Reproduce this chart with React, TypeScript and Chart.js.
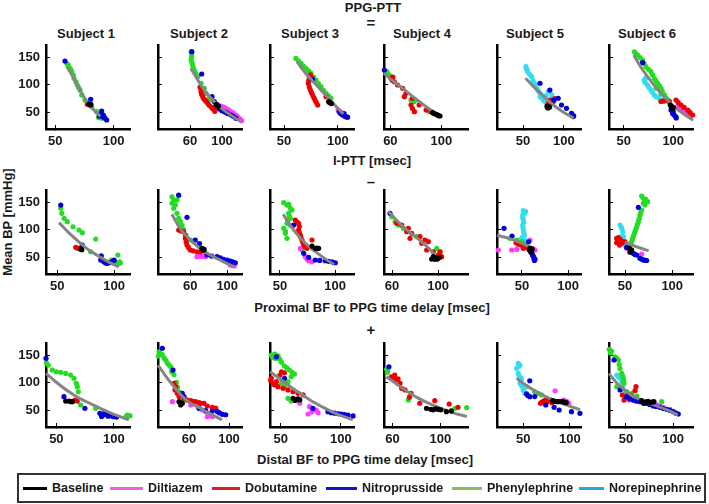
import React, { useEffect, useRef } from "react";
import { Chart, registerables } from "chart.js";
Chart.register(...registerables);

type Pt = [number, number];

// ---------- labels ----------
const drugNames = ["Baseline", "Diltiazem", "Dobutamine", "Nitroprusside", "Phenylephrine", "Norepinephrine"];
const dotColors = ["#000000", "#ff3cff", "#ee0000", "#0000d8", "#22dd22", "#33dcee"];
const legendColors = ["#000000", "#e466dc", "#e01e1e", "#1414c8", "#7cc458", "#22a8e8"];
const subjectTitles = ["Subject 1", "Subject 2", "Subject 3", "Subject 4", "Subject 5", "Subject 6"];
const rowXLabels = ["I-PTT [msec]", "Proximal BF to PPG time delay [msec]", "Distal BF to PPG time delay [msec]"];
const rowSigns = ["=", "\u2013", "+"];
const yTicks = [50, 100, 150];
const yRange = [20, 172];
const xTickLabels = [[50, 100], [60, 100], [50, 100], [60, 100], [50, 100], [50, 100]];
const xRangesRow1 = [[42, 114], [20, 125], [37, 115], [55, 121], [18, 121], [35, 120]];
const xRangesRow2 = [[40, 114], [25, 116], [41, 117], [53, 126], [23, 114], [33, 122]];
const xRangesRow3 = [[41, 114], [29, 113], [41, 111], [53, 123], [22, 112], [32, 121]];

// ---------- Row 1 : PPG-PTT vs I-PTT ----------
const r1s1Base: Pt[] = [[79.7, 63.4], [80.5, 64.5], [79, 65]];
const r1s1Dil: Pt[] = [];
const r1s1Dob: Pt[] = [[77.4, 64.6], [78, 66]];
const r1s1Nit: Pt[] = [[58.3, 143], [80.3, 73.8], [89.7, 52.6], [87.7, 43.5], [91.1, 45.3], [92.6, 39.3], [94, 36.3], [90.6, 42], [89, 47], [92, 41]];
const r1s1Phe: Pt[] = [[61.1, 135.7], [62.6, 129.8], [64, 123.8], [65.4, 117.6], [66, 111.7], [67.7, 105.5], [68.8, 99.6], [71.1, 90.5], [72.6, 81.5], [75.4, 72.4], [81.2, 60.3], [85.4, 51.3], [88.3, 45.3], [89.7, 39.5], [87, 41], [60, 138], [63, 127], [70, 95]];
const r1s1Nor: Pt[] = [];
const r1s1Fit: Pt[] = [[59.7, 133], [65, 115], [71, 91], [76, 73], [80, 62], [84, 52], [88.5, 43]];

const r1s2Base: Pt[] = [[92.5, 63.4], [94.6, 61], [93.5, 64.5], [95.5, 62]];
const r1s2Dil: Pt[] = [[98.8, 61.6], [102, 59.5], [105, 57.4], [108, 54.5], [111.3, 51.4], [114, 49], [117.5, 45.3], [119.5, 42], [121.6, 39.3], [123, 37], [124.6, 35], [100, 57], [110, 48]];
const r1s2Dob: Pt[] = [[72.5, 95.4], [73.8, 87.6], [75.9, 78.5], [78.8, 72.4], [82.1, 66.4], [86.3, 60.3], [90.4, 54.3], [73.8, 93], [74.5, 83], [77, 75], [80, 70], [84, 63], [88, 57], [91, 52]];
const r1s2Nit: Pt[] = [[62.3, 160], [74.6, 119.5], [87.5, 78.5], [90.4, 69.8], [102.9, 51.4], [107, 48], [111.3, 45.3], [114, 43], [117.5, 39.3], [105, 50], [100, 53], [97, 56]];
const r1s2Phe: Pt[] = [[61.3, 159.8], [62.1, 153.8], [61.3, 144.8], [63.4, 135.7], [65.4, 126.7], [69.6, 114.6], [73.8, 102.5], [77.9, 93.6], [80, 84.6], [84.1, 75.6], [86, 73], [62, 150], [62.5, 140], [64, 131], [67, 121]];
const r1s2Nor: Pt[] = [];
const r1s2Fit: Pt[] = [[61, 130], [70, 108], [80, 86], [90, 70], [100, 57], [110, 46], [124, 33]];

const r1s3Base: Pt[] = [[91.5, 69.8], [93.1, 67], [92, 68.5], [94, 66]];
const r1s3Dil: Pt[] = [[100.3, 54], [103, 50], [106, 43], [108, 41], [104, 47]];
const r1s3Dob: Pt[] = [[73.5, 114.6], [72.6, 102.5], [74.5, 90.5], [76.6, 81.5], [78.8, 72.4], [81.3, 63.4], [89, 78.5], [76, 112], [73, 108], [73.5, 96], [75.5, 86], [77.7, 77], [80, 68], [74.5, 118]];
const r1s3Nit: Pt[] = [[76.6, 109], [101.3, 51.4], [104.4, 45.3], [109.1, 41.4], [105.8, 48], [107, 43], [102.5, 48]];
const r1s3Phe: Pt[] = [[61.1, 147.7], [63.5, 143], [65.8, 139], [68, 134], [70.4, 129.8], [72.8, 125], [75.1, 120.9], [77.5, 114], [79.7, 108.6], [82, 102], [84.4, 96.7], [86.7, 90], [89, 84.6], [91.3, 80], [93.6, 75.6]];
const r1s3Nor: Pt[] = [];
const r1s3Fit: Pt[] = [[62, 142], [70, 121], [78, 104], [86, 87], [95, 68], [105, 47]];

const r1s4Base: Pt[] = [[93.3, 49.6], [95.9, 46.7], [98, 44.2], [94.5, 48], [97, 45.5], [99, 43.5]];
const r1s4Dil: Pt[] = [];
const r1s4Dob: Pt[] = [[60.5, 111.7], [63.1, 105.5], [65.7, 99.6], [69.7, 93.6], [72.3, 84.6], [71, 78.5], [77.3, 75.6], [76.2, 63.4], [77.3, 57.4], [78.9, 51.4], [82.6, 63.4], [88.1, 54.3], [92, 51.4], [61.5, 108], [62, 114]];
const r1s4Nit: Pt[] = [[55.3, 126.7]];
const r1s4Phe: Pt[] = [[57.4, 123.8], [59.2, 117.6], [76.2, 72.4], [78.8, 69.6], [90.6, 51.4], [56.5, 121]];
const r1s4Nor: Pt[] = [];
const r1s4Fit: Pt[] = [[55, 121], [62, 107], [70, 93], [78, 78], [86, 64], [92, 54], [98, 45]];

const r1s5Base: Pt[] = [[79.2, 61.6], [82.5, 59.6], [80.5, 58], [81, 60.5], [79.8, 59]];
const r1s5Dil: Pt[] = [];
const r1s5Dob: Pt[] = [[82.8, 72.4], [87, 69.6], [89, 75], [81, 66], [85, 67]];
const r1s5Nit: Pt[] = [[70.7, 102.8], [82.8, 90.5], [93, 75.6], [97.1, 63.4], [103.2, 57.4], [109.4, 48.4], [111.5, 42.4], [87.4, 72], [110, 45], [112, 44]];
const r1s5Phe: Pt[] = [[85.1, 73], [88, 71]];
const r1s5Nor: Pt[] = [[53.5, 132.8], [55.6, 123.8], [60.5, 114.8], [63.8, 102.8], [66.6, 93.6], [70.7, 84.6], [73.7, 75.6], [76.9, 69.6], [81, 87.6], [85.1, 81.6], [54.5, 128], [58, 119], [62, 108], [65, 98], [68.5, 89], [72, 80], [75, 72], [78, 80], [71, 78]];
const r1s5Fit: Pt[] = [[53, 112], [62, 98], [72, 84], [82, 70], [92, 58], [102, 48], [112, 40]];

const r1s6Base: Pt[] = [[97, 63.4], [99.4, 57], [98, 60.5], [100, 59]];
const r1s6Dil: Pt[] = [[104.5, 60.3], [109.6, 54.3], [114.7, 48.4], [118, 45], [106, 58], [112, 51], [116, 46.5]];
const r1s6Dob: Pt[] = [[87.6, 69.6], [92.7, 72], [102.8, 72.4], [107.9, 63.4], [114.7, 54.3], [119.7, 45.3], [96, 70], [105, 68], [111, 59], [117, 50], [90, 71]];
const r1s6Nit: Pt[] = [[69, 140], [97.7, 54.3], [101, 45.3], [99.4, 48], [102.7, 42], [100, 51], [103, 40]];
const r1s6Phe: Pt[] = [[60.6, 159.8], [64, 153.8], [69, 144.8], [72.4, 132.8], [77.5, 123.8], [80.9, 111.7], [84.3, 102.8], [87.6, 93.7], [91, 81.6], [94.3, 72.6], [82.6, 93.7], [87.6, 84], [62, 157], [66.5, 149], [70.5, 139], [75, 128], [79, 118], [82.5, 107], [86, 98], [89, 88], [92.5, 77], [96, 68]];
const r1s6Nor: Pt[] = [[70.7, 108.6], [74, 99.6], [77.4, 90.5], [80.8, 81.5], [85.8, 75.6], [90.9, 69.6], [72, 112], [75.5, 95], [79, 86], [83, 78], [88, 72], [71.5, 104]];
const r1s6Fit: Pt[] = [[60, 154], [68, 130], [76, 110], [84, 92], [92, 76], [100, 62], [110, 48], [120, 36]];

// ---------- Row 2 : Proximal BF to PPG time delay ----------
const r2s1Base: Pt[] = [[70.6, 65], [71.5, 64]];
const r2s1Dil: Pt[] = [];
const r2s1Dob: Pt[] = [[66.2, 68.3], [69.1, 66.4], [67.5, 67]];
const r2s1Nit: Pt[] = [[53, 144.8], [71.9, 72.4], [88.7, 53], [88.2, 45.3], [91.1, 42.2], [94, 39.3], [98.4, 42.2], [100, 45], [90, 44], [96, 40.5], [92.5, 40]];
const r2s1Phe: Pt[] = [[53, 138.8], [53.9, 129.8], [56, 120.7], [58.8, 114.6], [63.8, 105.5], [69.1, 99.6], [72, 94.7], [83.8, 83.3], [79.3, 60.3], [97.5, 45.3], [103.3, 54.4], [104.9, 42.2], [102, 40], [103.5, 38], [105.5, 40]];
const r2s1Nor: Pt[] = [];
const r2s1Fit: Pt[] = [[51.5, 113], [60, 95], [68, 80], [76, 66], [85, 54], [95, 42], [104, 33]];

const r2s2Base: Pt[] = [[72.6, 66.4], [74.4, 63], [73.5, 65], [75, 64.5]];
const r2s2Dil: Pt[] = [[67.2, 51.3], [76.2, 51.3], [103.3, 36.3], [107.6, 34.6], [105.5, 35.5], [70, 52], [73, 52]];
const r2s2Dob: Pt[] = [[47.4, 99.6], [52.8, 96.5], [54.6, 84.6], [56.4, 72.4], [60, 63.4], [67.2, 60.3], [70.8, 60.3], [74.4, 61.6], [50, 98], [55, 90], [55.5, 78], [58, 68], [63, 62]];
const r2s2Nit: Pt[] = [[47.4, 162.8], [56.4, 122.5], [65.4, 81.5], [78.1, 54.4], [88.9, 51.3], [96.1, 46.6], [103.3, 43.5], [108.8, 40.4], [83, 52.5], [92.5, 49], [100, 45], [106, 42], [70, 75], [73, 66]];
const r2s2Phe: Pt[] = [[40.2, 159.8], [42, 153.8], [40.2, 148], [42, 138.8], [45.6, 129.8], [47.4, 120.8], [49.2, 114.7], [45.6, 154], [47.4, 162], [43.8, 145], [54.6, 90.5], [60, 81.5], [63.6, 78.5], [51, 108], [52.5, 101]];
const r2s2Nor: Pt[] = [];
const r2s2Fit: Pt[] = [[40, 128], [50, 100], [60, 82], [70, 67], [82, 54], [95, 43], [107, 33]];

const r2s3Base: Pt[] = [[79, 70.6], [82, 66.4], [85, 66.4], [83.5, 67]];
const r2s3Dil: Pt[] = [[68.4, 66], [72.9, 51.3], [76, 44], [79, 42], [74.5, 47]];
const r2s3Dob: Pt[] = [[63.9, 117.6], [66.9, 111.6], [66.9, 99.6], [68.4, 90.5], [70, 81.5], [71.5, 72.4], [74.5, 66.4], [79, 81.5], [83.5, 66], [65.5, 114], [67.5, 106], [67.5, 95], [69, 86], [70.7, 77], [73, 69]];
const r2s3Nit: Pt[] = [[62.4, 108.6], [71.5, 57.4], [82, 45.3], [91, 44], [97.1, 42.2], [100.1, 40.4], [86, 44.5], [94, 43], [76, 50]];
const r2s3Phe: Pt[] = [[53.4, 149], [56.4, 144.8], [59.4, 139], [57.9, 129.8], [59.4, 120.8], [56.4, 111.7], [53.4, 102.6], [54.9, 93.6], [56.4, 84.6], [59.4, 108], [60.9, 136], [70, 63.4], [58, 146], [55, 97], [58.5, 125], [57, 116]];
const r2s3Nor: Pt[] = [];
const r2s3Fit: Pt[] = [[53, 128], [60, 106], [68, 86], [76, 70], [85, 56], [92, 46], [99, 37]];

const r2s4Base: Pt[] = [[95.9, 51.3], [98.8, 48.4], [97.3, 46.6], [101.2, 50], [94.4, 47], [97, 49.5], [99.5, 47]];
const r2s4Dil: Pt[] = [];
const r2s4Dob: Pt[] = [[68.4, 108.6], [74.2, 102.6], [72.7, 96.6], [77.1, 93.6], [75.6, 84.6], [84.3, 87.6], [85.8, 75.5], [91.5, 78.5], [90.1, 63.4], [95.9, 60.3], [101.7, 60.3], [100.2, 54.4], [103.1, 51.3], [88.6, 81.5], [64, 112]];
const r2s4Nit: Pt[] = [[58.2, 129.8]];
const r2s4Phe: Pt[] = [[59.7, 123.8], [62.6, 114.6], [65.5, 108.6], [69.8, 102.6], [81.4, 87.6], [98.8, 66.4], [101.7, 60.3]];
const r2s4Nor: Pt[] = [];
const r2s4Fit: Pt[] = [[57, 133], [65, 115], [72, 101], [80, 88], [88, 74], [97, 56]];

const r2s5Base: Pt[] = [[58.8, 66.4], [60.6, 62.2], [58, 63.4], [59.5, 60], [61, 65]];
const r2s5Dil: Pt[] = [[24.4, 63.4], [38.9, 63.4], [44.3, 64.5], [58.8, 81.5], [64.2, 63.4], [62, 66]];
const r2s5Dob: Pt[] = [[43.6, 76.6], [49.1, 72.4], [51.5, 66.4], [55.1, 67.6], [46, 74]];
const r2s5Nit: Pt[] = [[30.6, 102.6], [39.3, 88.7], [57.2, 78.4], [60.8, 57.4], [62.6, 51.3], [64.2, 46.6], [63, 49], [61.5, 54], [63.5, 44.5]];
const r2s5Phe: Pt[] = [[37.1, 84.6], [44.3, 81.5], [49.7, 78.5], [55.1, 72.4], [52, 75]];
const r2s5Nor: Pt[] = [[51.5, 134.5], [54, 133], [50.9, 126.7], [51.5, 117.6], [50.9, 108.6], [51.5, 99.6], [52.8, 90.5], [53.3, 81.5], [48, 81.5], [51.5, 72.4], [53, 130], [51, 122], [52, 113], [51.2, 104], [52, 95], [50, 86], [52.5, 77]];
const r2s5Fit: Pt[] = [[23, 90], [35, 85], [45, 79], [55, 72], [62, 67]];

const r2s6Base: Pt[] = [[54.5, 66.4], [57, 63.4], [55.2, 59.5], [56, 61.5]];
const r2s6Dil: Pt[] = [[51.7, 66.4], [67.6, 56.2]];
const r2s6Dob: Pt[] = [[41.1, 84.6], [42.9, 80.3], [44.7, 82.6], [41.1, 76.6], [46.4, 75.5], [50, 78.4], [44.1, 72.4], [43, 86], [47, 79]];
const r2s6Nit: Pt[] = [[64.1, 140.6], [51.7, 68], [57, 60.3], [62.3, 54.4], [65.8, 48.4], [69.4, 45.3], [72.9, 44.4], [59, 57], [60.5, 55.5], [67.5, 47], [71, 45]];
const r2s6Phe: Pt[] = [[67.6, 161], [69.4, 157], [74, 150.8], [69.4, 148], [67.6, 135.7], [65.8, 126.7], [64.1, 114.6], [62.3, 105.5], [60.5, 96.5], [58.7, 87.5], [57, 78.4], [55.2, 70.6], [53.5, 66], [66.5, 131], [65, 120], [63.2, 110], [61.4, 101], [59.6, 92], [57.8, 83], [71, 145], [72, 155]];
const r2s6Nor: Pt[] = [[44.7, 108.6], [46.5, 103], [47.5, 96.5], [48.2, 87.6], [50, 72.4], [46.5, 88], [49, 80]];
const r2s6Fit: Pt[] = [[50, 78], [58, 72], [66, 67], [75, 62]];

// ---------- Row 3 : Distal BF to PPG time delay ----------
const r3s1Base: Pt[] = [[58.1, 67], [61, 67], [64, 65.8], [62.5, 66]];
const r3s1Dil: Pt[] = [];
const r3s1Dob: Pt[] = [[66.2, 68.8], [68.2, 67]];
const r3s1Nit: Pt[] = [[41, 144.2], [56.6, 74.8], [74.8, 53.8], [87.8, 44.8], [90.7, 41.7], [93.6, 42.7], [96.5, 40.4], [99.4, 38.6], [102.3, 38], [92.2, 46.9], [89.3, 39], [95, 39.5]];
const r3s1Phe: Pt[] = [[41.3, 136.3], [43, 132], [46.5, 123.1], [50, 120], [53.7, 119], [58.1, 117], [62.4, 114], [65.3, 108.1], [67.3, 99], [68.2, 92.9], [69.1, 83.8], [71.1, 59.8], [84.2, 53.8], [111.7, 41.7], [114, 40], [110.5, 39]];
const r3s1Nor: Pt[] = [];
const r3s1Fit: Pt[] = [[41, 117], [50, 101], [60, 85], [70, 72], [80, 62], [90, 52], [100, 43], [113, 33]];

const r3s2Base: Pt[] = [[50, 65.8], [53.3, 62.8], [51.7, 60], [52, 63.5]];
const r3s2Dil: Pt[] = [[43.3, 65.8], [61.7, 60], [70, 54], [76.7, 48], [81.7, 41.7], [83.3, 38.6], [78.3, 38.6], [73, 51], [80, 44]];
const r3s2Dob: Pt[] = [[45, 99], [46.7, 93], [46, 87], [48.3, 81], [50, 75], [55, 72], [58.3, 68.8], [61.7, 67.6], [66.7, 65.8], [71.7, 62.8], [75, 62.8], [78.3, 58], [83.3, 55.6], [86.7, 54], [70, 64], [64, 66.5]];
const r3s2Nit: Pt[] = [[33.3, 162.3], [44, 123], [53.3, 80.8], [55, 75], [70, 53.8], [76.7, 49.8], [83.3, 48.9], [88.3, 47.9], [93.3, 43], [96.7, 42.2], [90.5, 45.5]];
const r3s2Phe: Pt[] = [[30, 156.2], [29.3, 148], [33.3, 151], [36.7, 141.2], [38.3, 136], [41.7, 129], [42.7, 120], [45, 115], [50, 83.8], [52, 78], [53.3, 75], [56.7, 69], [51.7, 66], [31.5, 153], [35, 145], [40, 132], [47.5, 101], [48.5, 92]];
const r3s2Nor: Pt[] = [];
const r3s2Fit: Pt[] = [[29, 132], [36, 114], [44, 95], [52, 78], [60, 65], [70, 55], [80, 45], [93, 33]];

const r3s3Base: Pt[] = [[60.2, 72], [63, 70], [65.8, 69], [62, 68], [64.5, 71]];
const r3s3Dil: Pt[] = [[61.6, 69], [65.8, 63], [73.9, 56.7], [79.5, 50.7], [72.7, 43.5], [81, 46], [76, 47.5]];
const r3s3Dob: Pt[] = [[42.1, 108.1], [43.5, 99], [44.9, 96], [49.2, 114], [50.6, 120], [47.7, 93], [51.9, 90], [56, 87], [60.2, 84], [64.4, 81], [68.6, 78], [46.3, 102], [41.5, 104], [53, 118]];
const r3s3Nit: Pt[] = [[46.3, 147], [53.1, 108.1], [76.7, 53.8], [89.3, 47.7], [94.9, 45], [100.4, 43.3], [106, 41.7], [110.2, 40], [92, 46], [98, 44], [103, 42.5]];
const r3s3Phe: Pt[] = [[42.1, 150.2], [44.9, 151.8], [47.7, 148.6], [49.2, 142.4], [50.6, 137], [53.1, 130.3], [57.2, 123.1], [61.4, 115.8], [56, 102], [58.6, 111], [50.6, 99], [53.1, 92.9], [56, 71.9], [58.6, 67], [43, 146], [45.5, 144], [55, 127], [59.5, 119]];
const r3s3Nor: Pt[] = [];
const r3s3Fit: Pt[] = [[41, 120], [50, 106], [58, 93], [66, 81], [75, 68], [85, 56], [95, 45], [110, 33]];

const r3s4Base: Pt[] = [[88.4, 53.8], [92, 52], [96.1, 52.8], [100.3, 51], [105, 47.7], [109.2, 49], [94, 51], [98, 52]];
const r3s4Dil: Pt[] = [];
const r3s4Dob: Pt[] = [[59.1, 110.9], [61.9, 114], [64.7, 107], [66.3, 99], [67.7, 90], [70.5, 87], [75.5, 81], [74.2, 74], [82.8, 62.8], [95.3, 67.6], [107.3, 61.6], [114.7, 55.7], [63, 105], [60.5, 108]];
const r3s4Nit: Pt[] = [[57.1, 129]];
const r3s4Phe: Pt[] = [[55.2, 124.3], [55.8, 119], [61.3, 107], [73.3, 68.8], [112.2, 53.8], [121.9, 55], [56, 122]];
const r3s4Nor: Pt[] = [];
const r3s4Fit: Pt[] = [[55, 111], [64, 97], [72, 85], [80, 74], [90, 63], [100, 54], [110, 46], [122, 39]];

const r3s5Base: Pt[] = [[81.8, 67.6], [86.4, 65.8], [91.8, 65.8], [96.1, 64], [84, 66.5], [89, 66], [94, 65]];
const r3s5Dil: Pt[] = [[84.2, 85.6], [93.5, 68.8], [97.1, 66], [98.9, 63], [95, 67.5]];
const r3s5Dob: Pt[] = [[68.6, 62.8], [72.1, 67], [75.7, 65.8], [79.3, 68.8], [73.9, 69], [81, 64], [77.5, 67], [70, 65]];
const r3s5Nit: Pt[] = [[57.1, 103.7], [53.6, 80], [57.1, 74.8], [62.4, 75], [74.3, 59.8], [83.2, 55.6], [88.6, 50.8], [101.8, 47.7], [110.9, 44.8], [55, 77]];
const r3s5Phe: Pt[] = [[62.4, 84], [69.6, 78], [66, 81]];
const r3s5Nor: Pt[] = [[44.8, 135.2], [46.6, 132], [43, 126.1], [44.8, 117], [48.2, 108.1], [46.6, 99], [50, 86.9], [53.6, 93], [51.8, 81], [45.5, 130], [46, 112], [47.5, 104], [48.5, 94], [51, 90]];
const r3s5Fit: Pt[] = [[43, 108], [52, 97], [62, 86], [72, 77], [82, 69], [93, 62], [103, 56], [111, 51]];

const r3s6Base: Pt[] = [[66.6, 67.6], [71.9, 65.8], [75.4, 64], [79.6, 65.8], [69, 62.8], [73.5, 66.5], [77.5, 65]];
const r3s6Dil: Pt[] = [[53.2, 68.8], [60.3, 67.6], [68.3, 65.8], [75.4, 62.8], [82.4, 60], [89.5, 55.6], [96.6, 52], [64, 66.5], [86, 58]];
const r3s6Dob: Pt[] = [[46.1, 77.9], [51.4, 76], [54.9, 77.9], [47.9, 68.8], [53.2, 71.9], [60.6, 93], [59.6, 86], [49.5, 74]];
const r3s6Nit: Pt[] = [[37.3, 141.2], [43.7, 87], [50.7, 74.8], [57.8, 68.8], [64.8, 65.8], [71.9, 62.8], [78.9, 58], [86, 55.6], [93, 52], [100.1, 47.7], [105.4, 43.5], [54, 71], [61, 67], [68, 64], [75, 60.5], [82, 57], [89.5, 53.5], [96.5, 50], [103, 45]];
const r3s6Phe: Pt[] = [[32.3, 160.5], [34.8, 157], [38.4, 147], [41.9, 141.2], [43.7, 126], [45.5, 117], [47.2, 108], [47.9, 99], [45.5, 90], [50.8, 84], [56.1, 81], [61.4, 76], [87.8, 65.8], [40.2, 93], [33.5, 154], [40, 144], [42.8, 133], [46.5, 112], [47.5, 103]];
const r3s6Nor: Pt[] = [[40.2, 114], [43.7, 108], [45.5, 102], [46.5, 93], [49, 84], [42, 111]];
const r3s6Fit: Pt[] = [[32, 117], [40, 100], [48, 88], [56, 77], [66, 69], [76, 62], [86, 56], [96, 49], [105, 42]];

// ---------- assembly ----------
type Panel = { range: number[]; ticks: number[]; series: Pt[][]; fit: Pt[] };
const mk = (range: number[], ticks: number[], series: Pt[][], fit: Pt[]): Panel => ({ range, ticks, series, fit });

const rows: Panel[][] = [
  [
    mk(xRangesRow1[0], xTickLabels[0], [r1s1Base, r1s1Dil, r1s1Dob, r1s1Nit, r1s1Phe, r1s1Nor], r1s1Fit),
    mk(xRangesRow1[1], xTickLabels[1], [r1s2Base, r1s2Dil, r1s2Dob, r1s2Nit, r1s2Phe, r1s2Nor], r1s2Fit),
    mk(xRangesRow1[2], xTickLabels[2], [r1s3Base, r1s3Dil, r1s3Dob, r1s3Nit, r1s3Phe, r1s3Nor], r1s3Fit),
    mk(xRangesRow1[3], xTickLabels[3], [r1s4Base, r1s4Dil, r1s4Dob, r1s4Nit, r1s4Phe, r1s4Nor], r1s4Fit),
    mk(xRangesRow1[4], xTickLabels[4], [r1s5Base, r1s5Dil, r1s5Dob, r1s5Nit, r1s5Phe, r1s5Nor], r1s5Fit),
    mk(xRangesRow1[5], xTickLabels[5], [r1s6Base, r1s6Dil, r1s6Dob, r1s6Nit, r1s6Phe, r1s6Nor], r1s6Fit),
  ],
  [
    mk(xRangesRow2[0], xTickLabels[0], [r2s1Base, r2s1Dil, r2s1Dob, r2s1Nit, r2s1Phe, r2s1Nor], r2s1Fit),
    mk(xRangesRow2[1], xTickLabels[1], [r2s2Base, r2s2Dil, r2s2Dob, r2s2Nit, r2s2Phe, r2s2Nor], r2s2Fit),
    mk(xRangesRow2[2], xTickLabels[2], [r2s3Base, r2s3Dil, r2s3Dob, r2s3Nit, r2s3Phe, r2s3Nor], r2s3Fit),
    mk(xRangesRow2[3], xTickLabels[3], [r2s4Base, r2s4Dil, r2s4Dob, r2s4Nit, r2s4Phe, r2s4Nor], r2s4Fit),
    mk(xRangesRow2[4], xTickLabels[4], [r2s5Base, r2s5Dil, r2s5Dob, r2s5Nit, r2s5Phe, r2s5Nor], r2s5Fit),
    mk(xRangesRow2[5], xTickLabels[5], [r2s6Base, r2s6Dil, r2s6Dob, r2s6Nit, r2s6Phe, r2s6Nor], r2s6Fit),
  ],
  [
    mk(xRangesRow3[0], xTickLabels[0], [r3s1Base, r3s1Dil, r3s1Dob, r3s1Nit, r3s1Phe, r3s1Nor], r3s1Fit),
    mk(xRangesRow3[1], xTickLabels[1], [r3s2Base, r3s2Dil, r3s2Dob, r3s2Nit, r3s2Phe, r3s2Nor], r3s2Fit),
    mk(xRangesRow3[2], xTickLabels[2], [r3s3Base, r3s3Dil, r3s3Dob, r3s3Nit, r3s3Phe, r3s3Nor], r3s3Fit),
    mk(xRangesRow3[3], xTickLabels[3], [r3s4Base, r3s4Dil, r3s4Dob, r3s4Nit, r3s4Phe, r3s4Nor], r3s4Fit),
    mk(xRangesRow3[4], xTickLabels[4], [r3s5Base, r3s5Dil, r3s5Dob, r3s5Nit, r3s5Phe, r3s5Nor], r3s5Fit),
    mk(xRangesRow3[5], xTickLabels[5], [r3s6Base, r3s6Dil, r3s6Dob, r3s6Nit, r3s6Phe, r3s6Nor], r3s6Fit),
  ],
];

// ---------- layout ----------
const FONT = '"Liberation Sans", Arial, Helvetica, sans-serif';
const colLeft = [46, 158, 270, 384, 497, 609];
const rowTop = [45, 190, 343];
const PLOT = 84;
const Y_AXIS_W = 40;
const X_AXIS_H = 24;
const PAD_TOP = 6;
const PAD_RIGHT = 8;
const CANVAS_W = Y_AXIS_W + PLOT + PAD_RIGHT;
const CANVAS_H = PAD_TOP + PLOT + X_AXIS_H;

const noPad = (s: any) => {
  s.paddingTop = 0;
  s.paddingBottom = 0;
  s.paddingLeft = 0;
  s.paddingRight = 0;
};

function PanelChart({ panel, row, col }: { panel: Panel; row: number; col: number }) {
  const ref = useRef<HTMLCanvasElement | null>(null);
  useEffect(() => {
    if (!ref.current) return;
    const toXY = (arr: Pt[]) => arr.map(([x, y]) => ({ x, y }));
    const dot = (i: number) => ({
      label: drugNames[i], data: toXY(panel.series[i]), backgroundColor: dotColors[i],
      pointRadius: 2.6, pointBorderWidth: 0, showLine: false, clip: false,
    });
    // earlier datasets are drawn on top
    const datasets: any[] = [
      dot(0),
      {
        label: "fit", data: toXY(panel.fit), borderColor: "#858585", borderWidth: 3,
        pointRadius: 0, showLine: true, tension: 0.4, cubicInterpolationMode: "monotone", clip: false,
      },
      dot(3), dot(2), dot(1), dot(4), dot(5),
    ];
    const tickFont = { family: FONT, size: 13, weight: "bold" as const };
    const chart = new Chart(ref.current, {
      type: "scatter",
      data: { datasets },
      options: {
        animation: false,
        responsive: false,
        devicePixelRatio: 1,
        events: [],
        layout: { padding: { top: PAD_TOP, right: PAD_RIGHT, left: 0, bottom: 0 } },
        plugins: { legend: { display: false }, tooltip: { enabled: false } },
        scales: {
          x: {
            type: "linear",
            min: panel.range[0],
            max: panel.range[1],
            afterFit: (s: any) => { s.height = X_AXIS_H; noPad(s); },
            afterBuildTicks: (s: any) => { s.ticks = panel.ticks.map((v) => ({ value: v })); },
            ticks: { font: tickFont, color: "#1a1a1a", padding: 9, maxRotation: 0, autoSkip: false },
            grid: { display: true, drawOnChartArea: false, drawTicks: true, tickLength: -4, color: "#000", lineWidth: 1 },
            border: { display: true, color: "#000", width: 2.5 },
          },
          y: {
            type: "linear",
            min: yRange[0],
            max: yRange[1],
            afterFit: (s: any) => { s.width = Y_AXIS_W; noPad(s); },
            afterBuildTicks: (s: any) => { s.ticks = yTicks.map((v) => ({ value: v })); },
            ticks: {
              font: tickFont, color: "#1a1a1a", padding: 10,
              callback: (v: any) => (col === 0 ? String(v) : ""),
            },
            grid: { display: true, drawOnChartArea: false, drawTicks: true, tickLength: -4, color: "#000", lineWidth: 1 },
            border: { display: true, color: "#000", width: 2.5 },
          },
        },
      } as any,
    });
    return () => chart.destroy();
  }, [panel, row, col]);
  return (
    <canvas
      ref={ref}
      width={CANVAS_W}
      height={CANVAS_H}
      style={{ position: "absolute", left: colLeft[col] - Y_AXIS_W, top: rowTop[row] - PAD_TOP, width: CANVAS_W, height: CANVAS_H }}
    />
  );
}

const textBase: React.CSSProperties = {
  position: "absolute",
  fontFamily: FONT,
  fontWeight: "bold",
  color: "#1a1a1a",
  whiteSpace: "nowrap",
  transform: "translate(-50%, -50%)",
  lineHeight: 1,
};

const signY = [22, 181, 329];
const rowLabelY = [160, 307, 459];
const rowLabelX = [372, 372, 365];
const subjectX = [86, 199, 310, 422, 535, 647];
const legendLineX = [23, 110, 212, 326, 452, 579];
const legendLineW = [24, 33, 28, 31, 30, 25];
const legendTextX = [52, 148, 245, 362, 487, 609];

export default function App() {
  return (
    <div style={{ position: "fixed", left: 0, top: 0, width: 709, height: 504, background: "#fff", overflow: "hidden" }}>
      <div style={{ ...textBase, left: 373, top: 7, fontSize: 13 }}>PPG-PTT</div>
      {subjectTitles.map((t, i) => (
        <div key={t} style={{ ...textBase, left: subjectX[i], top: 33, fontSize: 13 }}>{t}</div>
      ))}
      {rowSigns.map((s, i) => (
        <div key={i} style={{ ...textBase, left: 371, top: signY[i], fontSize: 15 }}>{s}</div>
      ))}
      {rowXLabels.map((t, i) => (
        <div key={t} style={{ ...textBase, left: rowLabelX[i], top: rowLabelY[i], fontSize: 13 }}>{t}</div>
      ))}
      <div style={{ ...textBase, left: 7, top: 222, fontSize: 13, transform: "translate(-50%, -50%) rotate(-90deg)" }}>
        Mean BP [mmHg]
      </div>
      {rows.map((r, ri) => r.map((p, ci) => <PanelChart key={`${ri}-${ci}`} panel={p} row={ri} col={ci} />))}
      <div style={{ position: "absolute", left: 17, top: 473, width: 685, height: 26, border: "2px solid #333" }} />
      {drugNames.map((d, i) => (
        <React.Fragment key={d}>
          <div style={{ position: "absolute", left: legendLineX[i], top: 487, width: legendLineW[i], height: 3, background: legendColors[i] }} />
          <div style={{ ...textBase, transform: "translate(0, -50%)", left: legendTextX[i], top: 488, fontSize: 12.5 }}>{d}</div>
        </React.Fragment>
      ))}
    </div>
  );
}
